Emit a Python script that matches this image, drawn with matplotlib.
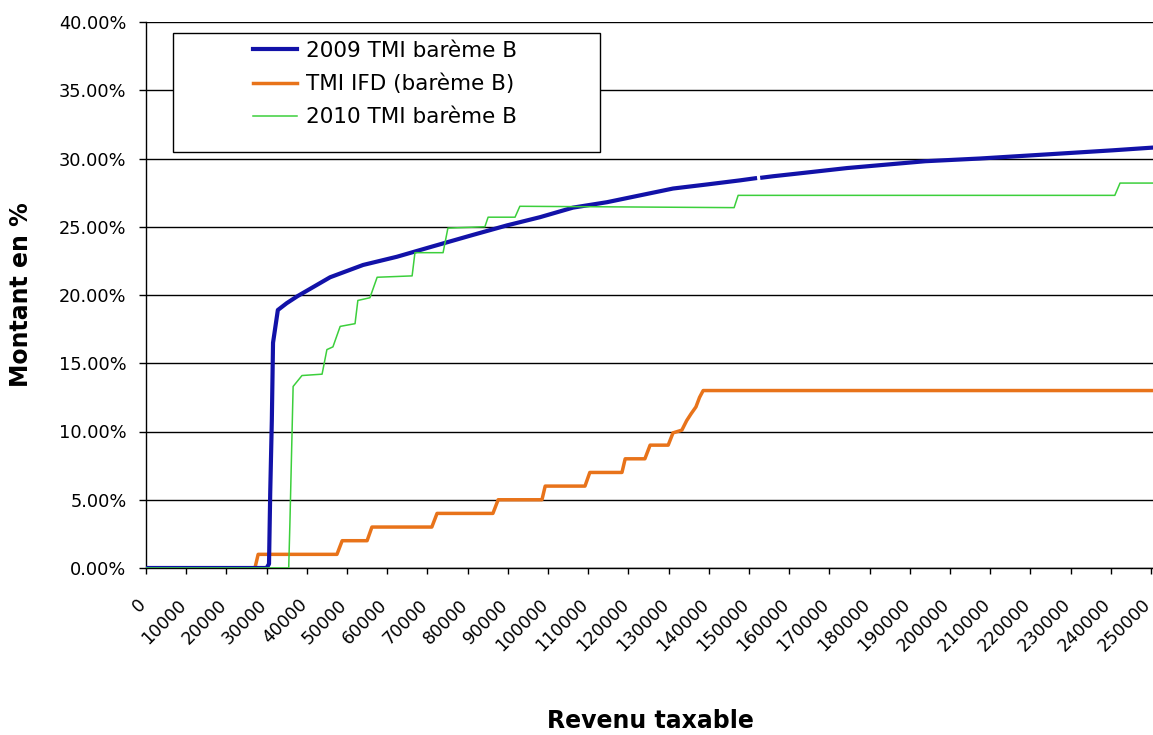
import numpy as np
import matplotlib
matplotlib.use("Agg")
import matplotlib.pyplot as plt
from matplotlib.patches import Rectangle
from matplotlib.lines import Line2D
from matplotlib.ticker import FuncFormatter
from matplotlib.transforms import ScaledTranslation

# Taux marginal (%) en fonction du revenu taxable
blue_x = [0, 30000, 30600, 30900, 31300, 31600, 32100, 32800, 35000, 37600, 45800,
          54000, 62400, 70600, 81300, 89800, 98000, 106200, 114700, 122900, 131100,
          139600, 147800, 151500, 152300, 153300, 156000, 162200, 174400, 193800,
          207500, 224100, 240500, 250500]
blue_y = [0, 0, 0.3, 5.5, 10.8, 16.5, 17.5, 18.9, 19.4, 19.9, 21.3,
          22.2, 22.8, 23.5, 24.4, 25.1, 25.7, 26.4, 26.8, 27.3, 27.8,
          28.1, 28.4, 28.55, np.nan, 28.6, 28.7, 28.9, 29.3, 29.8,
          30.0, 30.3, 30.6, 30.8]

orange_x = [0, 27100, 27900, 47500, 48800, 55000, 56200, 71100, 72400, 86300, 87600,
            98500, 99300, 109200, 110400, 118400, 119200, 124100, 125400, 129900,
            131100, 133300, 134500, 135600, 136800, 137700, 138600, 250500]
orange_y = [0, 0, 1, 1, 2, 2, 3, 3, 4, 4, 5,
            5, 6, 6, 7, 7, 8, 8, 9, 9,
            9.9, 10.1, 10.8, 11.3, 11.8, 12.5, 13.0, 13.0]

green_x = [0, 35500, 35800, 36600, 38800, 43800, 45000, 46500, 48300, 52000, 52700,
           55700, 57500, 66200, 66900, 73900, 75100, 84300, 85100, 91800, 93000,
           146300, 147300, 241000, 242300, 250500]
green_y = [0, 0, 3.3, 13.3, 14.1, 14.2, 16.0, 16.2, 17.7, 17.9, 19.6,
           19.8, 21.3, 21.4, 23.1, 23.1, 24.9, 25.0, 25.7, 25.7, 26.5,
           26.4, 27.3, 27.3, 28.2, 28.2]

labels = ["2009 TMI barème B", "TMI IFD (barème B)", "2010 TMI barème B"]
colors = ["#1212a8", "#e8731a", "#3ccf3c"]
widths = [3.0, 2.5, 1.1]

W, H = 1153, 735
fig = plt.figure(figsize=(W / 100, H / 100), dpi=100)
ax = fig.add_axes([146 / W, 1 - 568 / H, 1007 / W, 546 / H])

ax.plot(blue_x, blue_y, color=colors[0], lw=widths[0], zorder=4)
ax.plot(orange_x, orange_y, color=colors[1], lw=widths[1], zorder=3)
ax.plot(green_x, green_y, color=colors[2], lw=widths[2], zorder=5)

ax.set_xlim(0, 250500)
ax.set_ylim(0, 40)
ax.set_yticks(range(0, 41, 5))
ax.yaxis.set_major_formatter(FuncFormatter(lambda v, p: f"{v:.2f}%"))
xt = list(range(0, 250001, 10000))
ax.set_xticks(xt)
ax.set_xticklabels([str(v) for v in xt], rotation=45, ha="right", va="top",
                   rotation_mode="anchor")

ax.grid(axis="y", color="black", lw=1.0)
ax.set_axisbelow(True)
for s in ["top", "right"]:
    ax.spines[s].set_visible(False)
ax.spines["left"].set_linewidth(1.0)
ax.spines["bottom"].set_linewidth(1.0)
ax.tick_params(axis="y", length=5, width=1, pad=9, labelsize=12.8)
ax.tick_params(axis="x", length=4, width=1, pad=16, labelsize=12.5)

shift = ScaledTranslation(-9 / 100, 0, fig.dpi_scale_trans)
for lab in ax.get_xticklabels():
    lab.set_transform(lab.get_transform() + shift)

fig.text(21 / W, 1 - 295 / H, "Montant en %", rotation=90, fontsize=17,
         fontweight="bold", ha="center", va="center")
fig.text(650 / W, 1 - 728 / H, "Revenu taxable", fontsize=17,
         fontweight="bold", ha="center", va="baseline")

# legend box
fig.add_artist(Rectangle((173 / W, 1 - 152 / H), 427 / W, 119 / H,
                         transform=fig.transFigure, facecolor="white",
                         edgecolor="black", lw=1.0, zorder=3))
handles = [Line2D([], [], color=c, lw=w) for c, w in zip(colors, widths)]
fig.legend(handles, labels, loc="upper left", bbox_to_anchor=(253 / W, 1 - 41 / H),
           frameon=False, fontsize=15.5, handlelength=2.05, handletextpad=0.4,
           labelspacing=0.6, borderpad=0, borderaxespad=0)

fig.savefig("out.png", dpi=100)
